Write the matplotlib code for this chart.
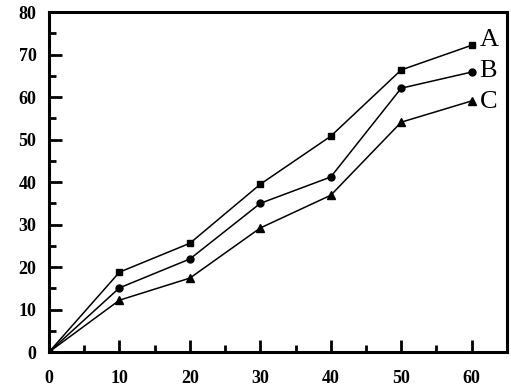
import matplotlib

matplotlib.use("Agg")
import matplotlib.pyplot as plt
from matplotlib.ticker import MultipleLocator

x = [0, 10, 20, 30, 40, 50, 60]
series_a = [0, 18.8, 25.6, 39.5, 50.8, 66.4, 72.2]
series_b = [0, 15.1, 21.9, 35.0, 41.2, 62.1, 65.9]
series_c = [0, 12.2, 17.4, 29.2, 36.9, 54.1, 59.1]
labels = ["A", "B", "C"]

# marker style and baseline shift of the end label for each curve
STYLES = [("s", 4.5, -0.25), ("o", 5, -1.2), ("^", 5.5, -1.6)]

fig = plt.figure(figsize=(5.11, 3.92), dpi=100)
ax = fig.add_axes([0.0959, 0.102, 0.896, 0.867])

for ys, lab, (marker, ms, dy) in zip((series_a, series_b, series_c), labels, STYLES):
    ax.plot(x, ys, color="black", linewidth=1.1, marker=marker, markersize=ms)
    ax.text(x[-1] + 1.1, ys[-1] + dy, lab, fontsize=19, family="Liberation Serif",
            va="baseline", ha="left")

ax.set_xlim(0, 65)
ax.set_ylim(0, 80)
ax.xaxis.set_major_locator(MultipleLocator(10))
ax.xaxis.set_minor_locator(MultipleLocator(5))
ax.yaxis.set_major_locator(MultipleLocator(10))
ax.yaxis.set_minor_locator(MultipleLocator(5))
ax.tick_params(which="both", direction="in", width=2, labelsize=13)
ax.tick_params(which="major", length=9)
ax.tick_params(which="minor", length=5)
ax.tick_params(axis="x", pad=13)
ax.tick_params(axis="y", pad=9)
for lab in ax.get_xticklabels() + ax.get_yticklabels():
    lab.set_family("Liberation Serif")
    lab.set_fontweight("bold")
for sp in ax.spines.values():
    sp.set_linewidth(2.2)

fig.savefig("out.png", dpi=100)
